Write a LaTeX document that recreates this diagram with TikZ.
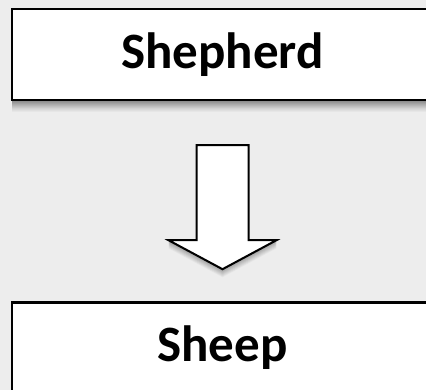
\documentclass[tikz,border=0pt]{standalone}
\usepackage{fontspec}
\setmainfont{Carlito}
\usetikzlibrary{positioning}
\definecolor{PaperGrey}{HTML}{EDEDED}
\tikzset{
  shadow layer/.style 2 args={
    preaction={fill=black!#2!PaperGrey, draw=none, transform canvas={yshift=-#1}}
  },
  soft shadow/.style={
    shadow layer={12pt}{3}, shadow layer={11pt}{6}, shadow layer={10pt}{9},
    shadow layer={9pt}{12}, shadow layer={8pt}{16}, shadow layer={7pt}{20},
    shadow layer={6pt}{24}, shadow layer={5pt}{28}, shadow layer={4pt}{32},
    shadow layer={3pt}{36}, shadow layer={2pt}{40}, shadow layer={1pt}{44},
  },
  role box/.style={
    soft shadow,
    draw=black,
    line width=2.4pt,
    fill=white,
    inner sep=0pt,
    minimum width=417pt,
    minimum height=91pt,
    font=\fontsize{51}{57}\selectfont\bfseries,
  },
  block arrow/.style={
    shadow layer={8pt}{4}, shadow layer={7pt}{8}, shadow layer={6pt}{12},
    shadow layer={5pt}{16}, shadow layer={4pt}{20}, shadow layer={3pt}{24},
    shadow layer={2pt}{28}, shadow layer={1pt}{32},
    draw=black,
    line width=2pt,
    fill=white,
    line join=miter,
  },
}

\begin{document}
\begin{tikzpicture}[x=1pt,y=1pt]
  \useasboundingbox[fill=PaperGrey] (0,0) rectangle (426,-390);
  \node[role box] (shepherd) at (220.5,-54.5) {\hspace*{4pt}Shepherd};
  \node[role box, below=200pt of shepherd, overlay] (sheep) {\hspace*{4pt}Sheep};
  % hollow arrow between the two boxes
  \coordinate[below=44pt of shepherd] (arrowtop);
  \draw[block arrow] ([xshift=-24pt]arrowtop) -- ++(52,0) -- ++(0,-95)
    -- ++(28,0) -- ++(-54,-29) -- ++(-54,29) -- ++(28,0) -- cycle;
\end{tikzpicture}
\end{document}
